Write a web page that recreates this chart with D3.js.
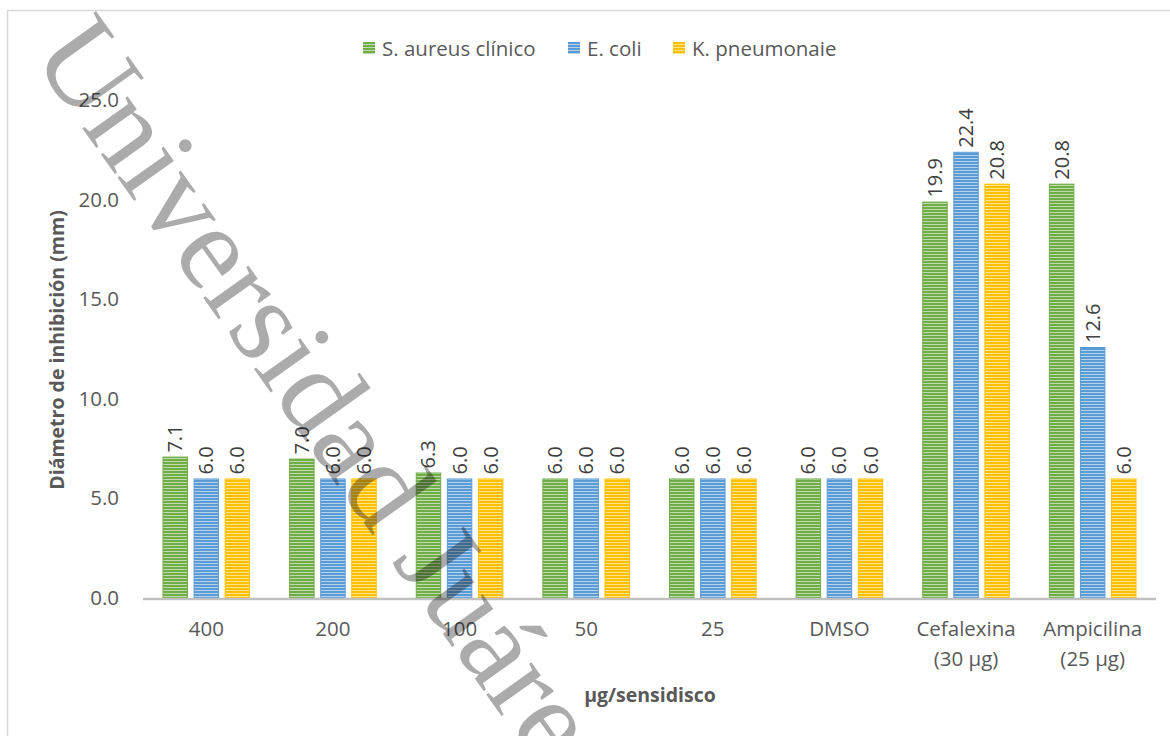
<!DOCTYPE html>
<html>
<head>
<meta charset="utf-8">
<script src="https://cdn.jsdelivr.net/npm/d3@7"></script>
<style>
  html, body { margin: 0; padding: 0; background: #fff; }
  svg { display: block; }
</style>
</head>
<body>
<svg id="chart" width="1170" height="736"></svg>
<script>
// Inhibition zone diameters (mm) per dose / control
const categories = [
  ["400"], ["200"], ["100"], ["50"], ["25"], ["DMSO"],
  ["Cefalexina", "(30 µg)"], ["Ampicilina", "(25 µg)"]
];
const seriesNames = ["S. aureus clínico", "E. coli", "K. pneumonaie"];
const sAureus   = [7.1, 7.0, 6.3, 6.0, 6.0, 6.0, 19.9, 20.8];
const eColi     = [6.0, 6.0, 6.0, 6.0, 6.0, 6.0, 22.4, 12.6];
const kPneumo   = [6.0, 6.0, 6.0, 6.0, 6.0, 6.0, 20.8, 6.0];
const yTicks    = [0, 5, 10, 15, 20, 25];
const seriesColors = ["#70ad47", "#5b9bd5", "#ffc000"];

const FONT = "'Open Sans', Lato, sans-serif";
const svg = d3.select("#chart");
const defs = svg.append("defs");

// horizontal-stripe fill for each series
seriesColors.forEach((c, i) => {
  const p = defs.append("pattern")
    .attr("id", "stripe" + i)
    .attr("patternUnits", "userSpaceOnUse")
    .attr("width", 8).attr("height", 3);
  p.append("rect").attr("width", 8).attr("height", 3).attr("fill", c);
  p.append("rect").attr("y", 2).attr("width", 8).attr("height", 1)
    .attr("fill", "#fff").attr("opacity", 0.55);
});

// chart frame
svg.append("rect")
  .attr("x", 7.5).attr("y", 10.5)
  .attr("width", 1200).attr("height", 800)
  .attr("fill", "none").attr("stroke", "#d9d9d9").attr("stroke-width", 1.5);

const catKeys = categories.map(c => c.join(" "));
const x = d3.scaleBand().domain(catKeys).range([143, 1156]);
const y = d3.scaleLinear().domain([0, 25]).range([598, 100]);
const xs = d3.scaleBand().domain(d3.range(3))
  .range([19.5, x.bandwidth() - 19.5]).paddingInner(0.18);

// y axis labels
const yAxis = d3.axisLeft(y).tickValues(yTicks).tickFormat(d3.format(".1f")).tickSize(0).tickPadding(0);
const yg = svg.append("g").attr("transform", "translate(119,0)").call(yAxis);
yg.select(".domain").remove();
yg.selectAll("text")
  .style("font-family", FONT).style("font-size", "20.5px")
  .attr("fill", "#595959");

// bars
const table = categories.map((c, i) => ({
  key: catKeys[i],
  vals: [sAureus[i], eColi[i], kPneumo[i]]
}));

const groups = svg.append("g").selectAll("g").data(table).join("g")
  .attr("transform", d => `translate(${x(d.key)},0)`);

groups.selectAll("rect").data(d => d.vals.map((v, s) => ({ v, s }))).join("rect")
  .attr("x", d => xs(d.s) + 0.5)
  .attr("width", xs.bandwidth() - 1)
  .attr("y", d => y(d.v) + 0.5)
  .attr("height", d => y(0) - y(d.v) - 0.5)
  .attr("fill", d => `url(#stripe${d.s})`)
  .attr("stroke", d => seriesColors[d.s])
  .attr("stroke-width", 1);

// value labels, rotated
groups.selectAll("text.val").data(d => d.vals.map((v, s) => ({ v, s }))).join("text")
  .attr("class", "val")
  .attr("transform", d => `translate(${xs(d.s) + xs.bandwidth() / 2 + 7},${y(d.v) - 4}) rotate(-90)`)
  .style("font-family", FONT).style("font-size", "20px")
  .attr("fill", "#404040")
  .text(d => d3.format(".1f")(d.v));

// x axis line
svg.append("line")
  .attr("x1", 143).attr("x2", 1156)
  .attr("y1", y(0) + 1).attr("y2", y(0) + 1)
  .attr("stroke", "#c0c0c0").attr("stroke-width", 2.5);

// category labels
const xl = svg.append("g").selectAll("text").data(categories).join("text")
  .attr("text-anchor", "middle")
  .style("font-family", FONT).style("font-size", "20.5px")
  .attr("fill", "#595959")
  .attr("x", (d, i) => x(catKeys[i]) + x.bandwidth() / 2)
  .attr("y", 636);
xl.selectAll("tspan").data(d => d).join("tspan")
  .attr("x", function () { return d3.select(this.parentNode).attr("x"); })
  .attr("dy", (d, i) => i === 0 ? 0 : 30)
  .text(d => d);

// axis titles
svg.append("text")
  .attr("transform", "translate(64,350) rotate(-90)")
  .attr("text-anchor", "middle")
  .style("font-family", FONT).style("font-size", "19.5px").style("font-weight", "bold")
  .attr("fill", "#595959")
  .text("Diámetro de inhibición (mm)");

svg.append("text")
  .attr("x", 650).attr("y", 702)
  .attr("text-anchor", "middle")
  .style("font-family", FONT).style("font-size", "19.5px").style("font-weight", "bold")
  .attr("fill", "#595959")
  .text("µg/sensidisco");

// legend
const legendX = [363, 568, 673];
const lg = svg.append("g").selectAll("g").data(seriesNames).join("g")
  .attr("transform", (d, i) => `translate(${legendX[i]},42)`);
lg.append("rect").attr("width", 12).attr("height", 12)
  .attr("fill", (d, i) => `url(#stripe${i})`);
lg.append("text").attr("x", 19).attr("y", 13.5)
  .style("font-family", FONT).style("font-size", "20.5px")
  .attr("fill", "#595959")
  .text(d => d);

// watermark
svg.append("text")
  .attr("transform", "translate(30,55) rotate(54.5)")
  .style("font-family", "'Liberation Serif', 'DejaVu Serif', serif")
  .style("font-size", "121px")
  .attr("fill", "#000").attr("fill-opacity", 0.33)
  .text("Universidad Juárez");
</script>
</body>
</html>
